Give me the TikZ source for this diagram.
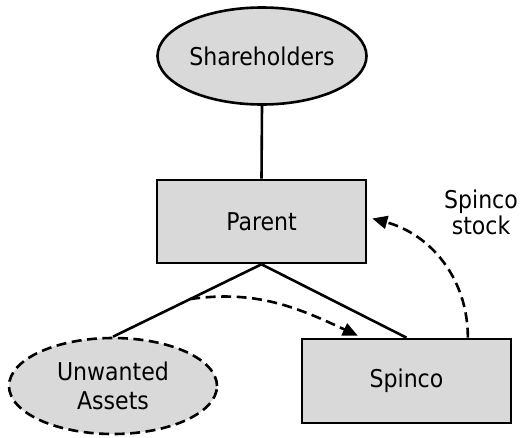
\documentclass[tikz,border=0pt]{standalone}
\usepackage{fontspec}
\setmainfont{DejaVu Sans Condensed}
\usetikzlibrary{shapes.geometric,arrows.meta,calc}
\definecolor{boxgray}{HTML}{D9D9D9}
\begin{document}
\begin{tikzpicture}[x=1pt,y=-1pt,
  font=\fontsize{24.5}{28}\selectfont,
  box/.style={draw,fill=boxgray,line width=2.6pt,minimum width=209pt,minimum height=83pt,inner sep=0pt},
  oval/.style={ellipse,draw,fill=boxgray,line width=2.6pt,minimum width=209pt,minimum height=97pt,inner sep=0pt,align=center},
  dashline/.style={dash pattern=on 10pt off 5.5pt},
  link/.style={line width=2.6pt},
  flow/.style={line width=2.6pt,dashline,-{Triangle[length=15pt,width=13pt]}}]
\useasboundingbox (0,0) rectangle (520,437);

% entities
\node[oval] (sh) at (262,56) {Shareholders};
\node[box] (parent) at (261.5,221.5) {Parent};
\node[box,minimum height=84pt] (spinco) at (406.5,381) {Spinco};
\node[oval,dashline,minimum width=208pt,minimum height=96pt] (assets) at (113,386) {Unwanted\\[1pt]Assets};
\node[align=center,font=\fontsize{24.5}{26}\selectfont] (stocklbl) at (481,212) {Spinco\\stock};

% ownership links
\draw[link] (sh.south) -- (parent.north);
\draw[link] (parent.south) -- (assets.north);
\draw[link] (parent.south) -- (spinco.north);

% transfers
\path (parent.south) -- (assets.north) coordinate[pos=0.48] (assetsrc);
\coordinate (assetdst) at ($(spinco.north west)!0.27!(spinco.north east)+(0,-2)$);
\coordinate (stocksrc) at ($(spinco.north west)!0.79!(spinco.north east)$);
\coordinate (stockdst) at ($(parent.east)+(5,-3)$);
\draw[flow] (assetsrc) to[out=8,in=155] (assetdst);
\draw[flow] (stocksrc) to[out=90,in=-15] (stockdst);
\end{tikzpicture}
\end{document}
